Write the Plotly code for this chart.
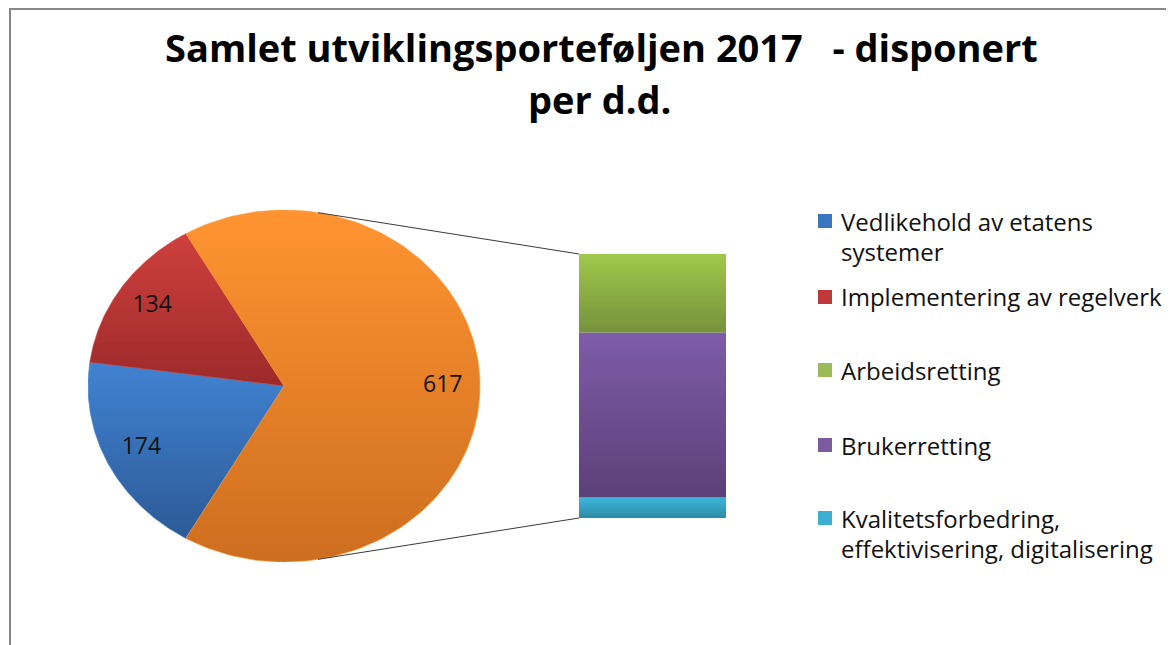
import numpy as np
import plotly.graph_objects as go

# ---------------- data ----------------
title_line1 = "Samlet utviklingsporteføljen 2017\u00a0\u00a0\u00a0- disponert"
title_line2 = "per d.d."

pie_labels = ["Vedlikehold av etatens systemer", "Implementering av regelverk", "Andre"]
pie_values = [174, 134, 617]

bar_labels = ["Arbeidsretting", "Brukerretting",
              "Kvalitetsforbedring, effektivisering, digitalisering"]
bar_values = [183, 385, 48]

legend_lines = [["Vedlikehold av etatens", "systemer"],
                ["Implementering av regelverk"],
                ["Arbeidsretting"],
                ["Brukerretting"],
                ["Kvalitetsforbedring,", "effektivisering, digitalisering"]]

# ---------------- styles ----------------
pie_grad = [("#2C5A96", "#4183D2"), ("#9C2A2A", "#CF403D"), ("#CD6E1F", "#FF9431")]
bar_grad = [("#76923C", "#A0C84B"), ("#5C4078", "#7E5CA9"), ("#2E8BA6", "#3CB6DA")]
legend_colors = ["#3A76C0", "#C0393A", "#9BBB59", "#7A5C9E", "#3AAFCF"]

W, H = 1174, 645
OFF = 8  # page offset of the plot div
PIE_CX, PIE_CY, PIE_RX, PIE_RY = 284, 386, 196, 176
BAR_X0, BAR_X1, BAR_Y0, BAR_Y1 = 579, 726, 254, 518
FONT = "Open Sans"


def px(x):
    return (x - OFF) / W


def py(y):
    return 1 - (y - OFF) / H


fig = go.Figure()

# ---------------- pie (drawn on an axis whose unit circle maps to the ellipse) ----------------
total = sum(pie_values)
ang = 360 - pie_values[-1] / total * 180.0
lab_x, lab_y = [], []
for v, (dark, light), name in zip(pie_values, pie_grad, pie_labels):
    sweep = v / total * 360.0
    th = np.radians(np.linspace(ang, ang - sweep, 160))
    xs = np.concatenate([[0], np.cos(th), [0]])
    ys = np.concatenate([[0], np.sin(th), [0]])
    fig.add_trace(go.Scatter(
        x=xs, y=ys, mode="lines", fill="toself", name=name,
        line=dict(width=0.6, color=light),
        fillgradient=dict(type="vertical", colorscale=[[0, dark], [1, light]]),
        showlegend=False, hoverinfo="skip", xaxis="x", yaxis="y"))
    mid = np.radians(ang - sweep / 2)
    lab_x.append(0.81 * np.cos(mid))
    lab_y.append(0.81 * np.sin(mid))
    ang -= sweep

fig.add_trace(go.Scatter(
    x=lab_x, y=lab_y, mode="text", text=[str(v) for v in pie_values],
    textposition="middle center", textfont=dict(family=FONT, size=23, color="#111111"),
    showlegend=False, hoverinfo="skip", xaxis="x", yaxis="y"))

# ---------------- connector lines (tangent from bar corners to the pie) ----------------
for bar_y, sign in [(BAR_Y0, 1), (BAR_Y1, -1)]:
    u = (BAR_X0 - PIE_CX) / PIE_RX
    v = (PIE_CY - bar_y) / PIE_RY
    d = np.hypot(u, v)
    phi = np.arctan2(v, u)
    t = phi + sign * np.arccos(1 / d)
    fig.add_trace(go.Scatter(
        x=[np.cos(t), u], y=[np.sin(t), v], mode="lines",
        line=dict(color="#3a3a3a", width=1), showlegend=False, hoverinfo="skip",
        xaxis="x", yaxis="y"))

# ---------------- stacked bar ----------------
cum = 0
bar_mid = []
for v, (dark, light), name in zip(bar_values[::-1], bar_grad[::-1], bar_labels[::-1]):
    fig.add_trace(go.Scatter(
        x=[0, 1, 1, 0, 0], y=[cum, cum, cum + v, cum + v, cum], mode="lines",
        fill="toself", name=name, line=dict(width=0),
        fillgradient=dict(type="vertical", colorscale=[[0, dark], [1, light]]),
        showlegend=False, hoverinfo="skip", xaxis="x2", yaxis="y2"))
    bar_mid.append(cum + v / 2)
    cum += v

fig.add_trace(go.Scatter(
    x=[1.15] * len(bar_values), y=bar_mid, mode="text",
    text=[str(v) for v in bar_values[::-1]], textposition="middle right",
    textfont=dict(family=FONT, size=23, color="#111111"), cliponaxis=False,
    showlegend=False, hoverinfo="skip", xaxis="x2", yaxis="y2"))

# ---------------- legend (manual, Excel-like spacing) ----------------
shapes = []
annotations = []
legend_y = [221, 297, 370, 445, 518]
for lines, yc, col in zip(legend_lines, legend_y, legend_colors):
    shapes.append(dict(type="rect", xref="paper", yref="paper",
                       x0=px(818), x1=px(832), y0=py(yc + 7), y1=py(yc - 7),
                       fillcolor=col, line=dict(width=0)))
    for i, ln in enumerate(lines):
        annotations.append(dict(text=ln, xref="paper", yref="paper", x=px(839),
                                y=py(yc + 30 * i), xanchor="left", yanchor="middle",
                                showarrow=False,
                                font=dict(family=FONT, size=24, color="#111111")))

# title
annotations.append(dict(text=title_line1, xref="paper", yref="paper", x=px(602), y=py(47),
                        xanchor="center", yanchor="middle", showarrow=False,
                        font=dict(family=FONT, size=38, color="#000000", weight="bold")))
annotations.append(dict(text=title_line2, xref="paper", yref="paper", x=px(600), y=py(99),
                        xanchor="center", yanchor="middle", showarrow=False,
                        font=dict(family=FONT, size=38, color="#000000", weight="bold")))

# chart border (left and top edges visible)
shapes.append(dict(type="path", xref="paper", yref="paper",
                   path=f"M {px(10)},{py(700)} L {px(10)},{py(9)} L {px(1200)},{py(9)}",
                   line=dict(color="#888888", width=2)))

axis_off = dict(visible=False, showgrid=False, zeroline=False, fixedrange=True)
fig.update_layout(
    width=W, height=H, margin=dict(l=0, r=0, t=0, b=0),
    paper_bgcolor="white", plot_bgcolor="rgba(0,0,0,0)",
    showlegend=False,
    xaxis=dict(domain=[px(PIE_CX - PIE_RX), px(BAR_X1)],
               range=[-1, (BAR_X1 - PIE_CX) / PIE_RX], **axis_off),
    yaxis=dict(domain=[py(PIE_CY + PIE_RY), py(PIE_CY - PIE_RY)], range=[-1, 1], **axis_off),
    xaxis2=dict(domain=[px(BAR_X0), px(BAR_X1)], range=[0, 1], anchor="y2", **axis_off),
    yaxis2=dict(domain=[py(BAR_Y1), py(BAR_Y0)], range=[0, sum(bar_values)], anchor="x2",
                **axis_off),
    shapes=shapes, annotations=annotations,
)

fig.write_html("out.html")
